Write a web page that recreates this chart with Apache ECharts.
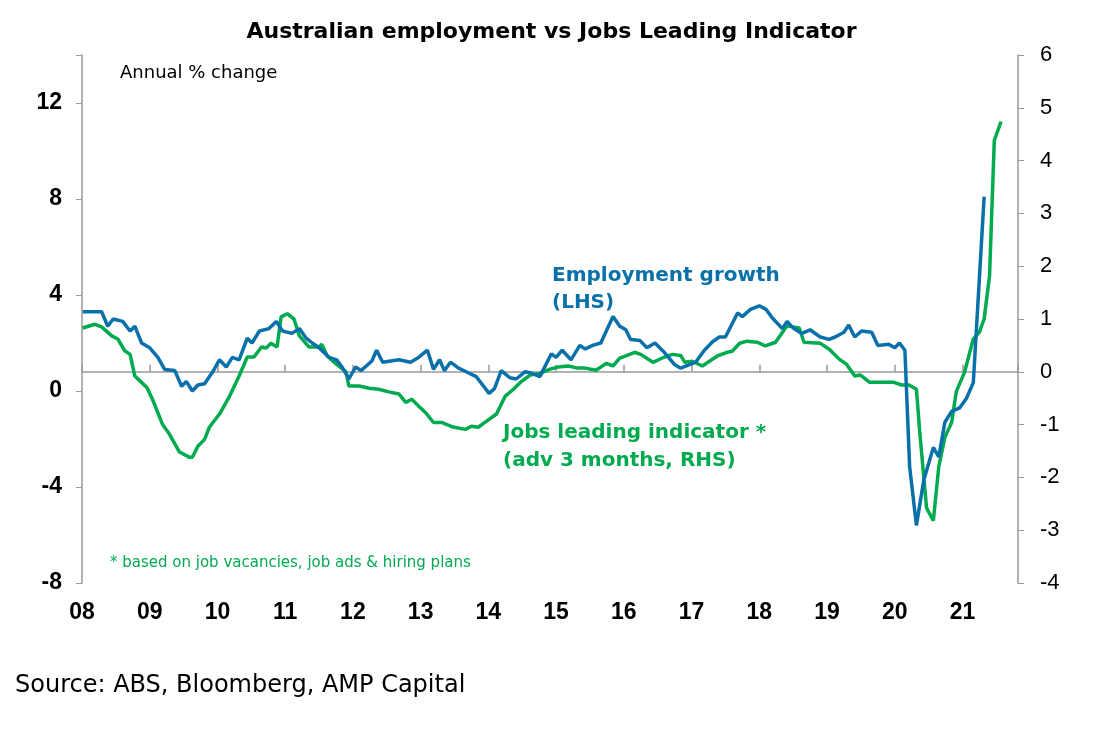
<!DOCTYPE html>
<html>
<head>
<meta charset="utf-8">
<script src="https://cdn.jsdelivr.net/npm/echarts@6/dist/echarts.min.js"></script>
<style>html,body{margin:0;padding:0;background:#fff}#chart{width:1103px;height:731px}</style>
</head>
<body>
<div id="chart"></div>
<script>
// years after Jan 2008
var empYears = [.01,.16,.29,.38,.46,.60,.71,.78,.88,1.0,1.12,1.22,1.37,1.47,1.54,1.63,1.71,1.81,1.93,2.03,2.13,2.22,2.32,2.44,2.51,2.62,2.76,2.87,2.96,3.10,3.21,3.31,3.40,3.50,3.65,3.76,3.84,3.94,4.04,4.12,4.28,4.35,4.44,4.68,4.85,4.97,5.10,5.19,5.28,5.35,5.44,5.56,5.71,5.82,5.93,6.01,6.09,6.19,6.32,6.41,6.54,6.63,6.76,6.93,7.0,7.09,7.22,7.35,7.43,7.54,7.66,7.84,7.94,8.03,8.10,8.24,8.34,8.46,8.60,8.75,8.84,8.97,9.06,9.19,9.31,9.41,9.50,9.68,9.75,9.87,10.0,10.10,10.19,10.34,10.41,10.51,10.63,10.75,10.90,11.03,11.12,11.25,11.32,11.41,11.51,11.66,11.75,11.91,12.0,12.07,12.15,12.22,12.32,12.43,12.57,12.65,12.74,12.84,12.96,13.06,13.16,13.32];
var empValues = [3.3,3.3,3.3,2.7,3.0,2.9,2.5,2.7,2.0,1.8,1.4,0.9,0.85,0.2,0.4,0,0.25,0.3,0.8,1.3,1.0,1.4,1.3,2.2,2.0,2.5,2.6,2.9,2.5,2.4,2.6,2.2,2.0,1.8,1.4,1.3,1.0,0.5,1.0,0.85,1.25,1.7,1.2,1.3,1.2,1.4,1.7,0.9,1.3,0.85,1.2,0.95,0.75,0.6,0.2,-0.1,0.1,0.85,0.55,0.5,0.8,0.75,0.6,1.55,1.4,1.7,1.3,1.9,1.75,1.9,2.0,3.1,2.7,2.55,2.15,2.1,1.8,2.0,1.6,1.1,0.95,1.1,1.2,1.7,2.05,2.25,2.25,3.25,3.1,3.4,3.55,3.4,3.05,2.6,2.9,2.6,2.4,2.55,2.25,2.15,2.25,2.45,2.75,2.25,2.5,2.45,1.9,1.95,1.8,2.0,1.7,-3.15,-5.6,-3.7,-2.35,-2.75,-1.3,-0.85,-0.7,-0.3,0.35,8.1];
var jliYears = [.01,.19,.29,.44,.53,.63,.71,.78,.96,1.04,1.19,1.29,1.44,1.59,1.63,1.71,1.81,1.88,2.03,2.18,2.32,2.44,2.54,2.65,2.72,2.79,2.88,2.94,3.03,3.13,3.21,3.35,3.50,3.54,3.62,3.76,3.90,3.94,4.09,4.24,4.38,4.53,4.68,4.78,4.87,4.97,5.07,5.19,5.31,5.46,5.66,5.75,5.85,5.97,6.12,6.25,6.37,6.49,6.62,6.76,6.91,7.03,7.18,7.32,7.43,7.59,7.74,7.84,7.94,8.03,8.16,8.25,8.43,8.60,8.72,8.84,8.90,9.01,9.16,9.38,9.53,9.60,9.71,9.82,9.97,10.09,10.24,10.41,10.59,10.66,10.90,11.03,11.18,11.29,11.41,11.49,11.63,11.81,11.99,12.10,12.21,12.32,12.37,12.47,12.57,12.65,12.74,12.84,12.91,13.03,13.16,13.25,13.32,13.40,13.47,13.57];
var jliValues = [.83,.9,.85,.68,.62,.4,.33,-.08,-.3,-.52,-1.0,-1.18,-1.52,-1.62,-1.62,-1.41,-1.28,-1.05,-.8,-.46,-.08,.28,.28,.47,.45,.54,.47,1.04,1.1,1.0,.68,.47,.47,.52,.3,.14,0,-.27,-.27,-.31,-.33,-.38,-.42,-.58,-.52,-.65,-.77,-.96,-.96,-1.04,-1.09,-1.03,-1.05,-.94,-.8,-.46,-.33,-.18,-.06,-.03,.05,.09,.11,.07,.07,.03,.16,.11,.26,.3,.37,.33,.18,.28,.33,.31,.18,.2,.11,.3,.37,.39,.54,.58,.56,.49,.56,.87,.83,.56,.54,.43,.24,.14,-.08,-.06,-.2,-.2,-.2,-.25,-.25,-.33,-1.15,-2.58,-2.82,-1.8,-1.24,-.96,-.37,-.01,.62,.75,1.0,1.82,4.38,4.74];
var startYear = 2008;
var blue = '#0a70aa', green = '#00aa4f';

function pairs(xs, ys) {
    var res = [];
    for (var i = 0; i < xs.length; i++) res.push([startYear + xs[i], ys[i]]);
    return res;
}

var chart = echarts.init(document.getElementById('chart'));
var xBase = { type: 'value', min: 2008, max: 2021.82, interval: 1, splitLine: { show: false } };
var option = {
    animation: false,
    title: { text: 'Australian employment vs Jobs Leading Indicator', left: 'center', top: 16,
        textStyle: { fontFamily: 'DejaVu Sans', fontSize: 22, fontWeight: 'bold', color: '#000' } },
    grid: { left: 82, right: 85, top: 55, bottom: 148 },
    xAxis: [
        Object.assign({}, xBase, {
            axisLine: { show: false }, axisTick: { show: false },
            axisLabel: { fontFamily: 'Arial', fontSize: 23, fontWeight: 'bold', color: '#000', margin: 18,
                formatter: function (v) { return v > 2021.5 ? '' : String(Math.round(v) % 100).padStart(2, '0'); } }
        }),
        Object.assign({}, xBase, {
            axisLine: { show: true, onZero: true, lineStyle: { color: '#999', width: 1.5 } },
            axisTick: { show: true, inside: false, length: 7, lineStyle: { color: '#999', width: 1.5 } },
            axisLabel: { show: false }
        })
    ],
    yAxis: [
        { type: 'value', min: -8, max: 14, interval: 4, splitLine: { show: false },
          axisLine: { show: true, lineStyle: { color: '#999', width: 1.5 } },
          axisTick: { show: true, length: 6, lineStyle: { color: '#999' } },
          axisLabel: { fontFamily: 'Arial', fontSize: 23, fontWeight: 'bold', color: '#000', margin: 20,
              formatter: function (v) { return v > 12 ? '' : v; } } },
        { type: 'value', min: -4, max: 6, interval: 1, position: 'right', splitLine: { show: false },
          axisLine: { show: true, lineStyle: { color: '#999', width: 1.5 } },
          axisTick: { show: true, length: 6, lineStyle: { color: '#999' } },
          axisLabel: { fontFamily: 'Arial', fontSize: 22, color: '#000', margin: 22 } }
    ],
    series: [
        { name: 'Jobs leading indicator', type: 'line', yAxisIndex: 1, showSymbol: false,
          data: pairs(jliYears, jliValues), lineStyle: { color: green, width: 3.5 }, itemStyle: { color: green } },
        { name: 'Employment growth', type: 'line', yAxisIndex: 0, showSymbol: false,
          data: pairs(empYears, empValues), lineStyle: { color: blue, width: 3.5 }, itemStyle: { color: blue } }
    ],
    graphic: [
        { type: 'text', left: 120, top: 64, style: { text: 'Annual % change', font: '18px "DejaVu Sans"', fill: '#000' } },
        { type: 'text', left: 552, top: 262, style: { text: 'Employment growth\n(LHS)', font: 'bold 20px "DejaVu Sans"', fill: blue, lineHeight: 27 } },
        { type: 'text', left: 503, top: 419, style: { text: 'Jobs leading indicator *\n(adv 3 months, RHS)', font: 'bold 20px "DejaVu Sans"', fill: green, lineHeight: 28 } },
        { type: 'text', left: 110, top: 556, style: { text: '* based on job vacancies, job ads & hiring plans', font: '15px "DejaVu Sans"', fill: green } },
        { type: 'text', left: 15, top: 674, style: { text: 'Source: ABS, Bloomberg, AMP Capital', font: '24px "DejaVu Sans"', fill: '#000' } }
    ]
};
chart.setOption(option);
</script>
</body>
</html>
